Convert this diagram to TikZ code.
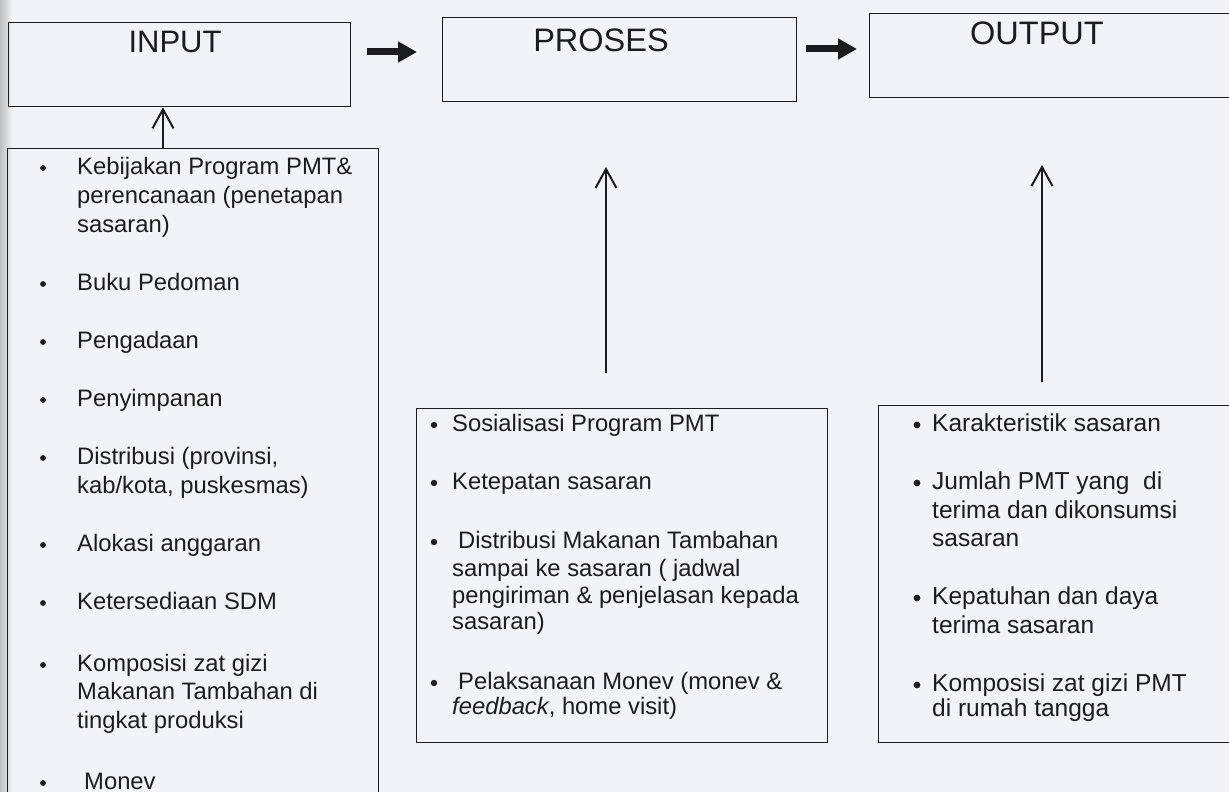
\documentclass[tikz,border=0pt]{standalone}
\usepackage{fontspec}
\setmainfont{Liberation Sans}
\usetikzlibrary{arrows.meta}
\definecolor{bg}{RGB}{241,243,248}
\definecolor{ink}{RGB}{28,28,30}
\begin{document}
\begin{tikzpicture}[x=1pt,y=-1pt,
  box/.style={draw=ink, line width=1.3pt, inner sep=0pt, anchor=north west},
  title/.style={font=\fontsize{31}{36}\selectfont, text=ink, inner sep=0pt},
  li/.style={anchor=base west, yshift=-6.3pt, inner sep=0pt, font=\fontsize{23.8}{28}\selectfont, text=ink},
  lo/.style={li, font=\fontsize{24.5}{29}\selectfont},
  bul/.style={fill=ink},
  fatarrow/.style={-{Triangle[length=19pt,width=20pt]}, line width=7pt, draw=ink},
  uparrow/.style={-{Straight Barb[length=19pt,width=21pt,line width=2pt]}, line width=2pt, draw=ink}]
\useasboundingbox (0,0) rectangle (1229,792);
\clip (0,0) rectangle (1229,792);
\fill[bg] (0,0) rectangle (1229,792);
\fill[left color=black!25, right color=bg] (0,0) rectangle (12,792);

% header boxes
\node[box, minimum width=342pt, minimum height=84pt] (input) at (8,22) {};
\node[box, minimum width=354pt, minimum height=84pt] (proses) at (442,17) {};
\node[box, minimum width=380pt, minimum height=84pt] (output) at (869,13) {};
\node[title] (inputT) at (175,42) {INPUT};
\node[title, font=\fontsize{32.5}{36}\selectfont] (prosesT) at (601,40) {PROSES};
\node[title, font=\fontsize{32.5}{36}\selectfont] (outputT) at (1037,33) {OUTPUT};

% list boxes
\node[box, minimum width=371pt, minimum height=660pt] (inlist) at (7,148) {};
\node[box, minimum width=411pt, minimum height=334pt] (prlist) at (416,408) {};
\node[box, minimum width=370pt, minimum height=337pt] (outlist) at (878,405) {};

% fat arrows
\coordinate (f1a) at (367,52); \coordinate (f1b) at (417,52);
\coordinate (f2a) at (806,49); \coordinate (f2b) at (857,49);
\draw[fatarrow] (f1a) -- (f1b);
\draw[fatarrow] (f2a) -- (f2b);

% up arrows
\coordinate (u1) at (163,0);
\coordinate (u2a) at (606,373); \coordinate (u2) at (606,167);
\coordinate (u3a) at (1042,382); \coordinate (u3) at (1042,165);
\draw[uparrow] (inlist.north -| u1) -- (input.south -| u1);
\draw[uparrow] (u2a) -- (u2);
\draw[uparrow] (u3a) -- (u3);

% INPUT list
\foreach \y in {168,284,342,400,458,545,603,665,783} \fill[bul] (43,\y) circle (2.9pt);
\node[li] (i1) at (77,168) {Kebijakan Program PMT\&};
\node[li] (i2) at (77,197) {perencanaan (penetapan};
\node[li] (i3) at (77,226) {sasaran)};
\node[li] (i4) at (77,284) {Buku Pedoman};
\node[li] (i5) at (77,342) {Pengadaan};
\node[li] (i6) at (77,400) {Penyimpanan};
\node[li] (i7) at (77,458) {Distribusi (provinsi,};
\node[li] (i8) at (77,487) {kab/kota, puskesmas)};
\node[li] (i9) at (77,545) {Alokasi anggaran};
\node[li] (i10) at (77,603) {Ketersediaan SDM};
\node[li] (i11) at (77,665) {Komposisi zat gizi};
\node[li] (i12) at (77,693) {Makanan Tambahan di};
\node[li] (i13) at (77,722) {tingkat produksi};
\node[li] (i14) at (84,783) {Monev};

% PROSES list
\foreach \y in {425,483,542,683} \fill[bul] (434,\y) circle (3.2pt);
\node[li] (p1) at (452,425) {Sosialisasi Program PMT};
\node[li] (p2) at (452,483) {Ketepatan sasaran};
\node[li] (p3) at (458,542) {Distribusi Makanan Tambahan};
\node[li] (p4) at (452,570) {sampai ke sasaran ( jadwal};
\node[li] (p5) at (452,597) {pengiriman \& penjelasan kepada};
\node[li] (p6) at (452,623) {sasaran)};
\node[li] (p7) at (458,683) {Pelaksanaan Monev (monev \&};
\node[li] (p8) at (452,708) {\textit{feedback}, home visit)};

% OUTPUT list
\foreach \y in {425,483,598,685} \fill[bul] (917,\y) circle (3.4pt);
\node[lo] (o1) at (932,425) {Karakteristik sasaran};
\node[lo] (o2) at (932,483) {Jumlah PMT yang\ \ di};
\node[lo] (o3) at (932,512) {terima dan dikonsumsi};
\node[lo] (o4) at (932,540) {sasaran};
\node[lo] (o5) at (932,598) {Kepatuhan dan daya};
\node[lo] (o6) at (932,627) {terima sasaran};
\node[lo] (o7) at (932,685) {Komposisi zat gizi PMT};
\node[lo] (o8) at (932,710) {di rumah tangga};
\end{tikzpicture}
\end{document}
